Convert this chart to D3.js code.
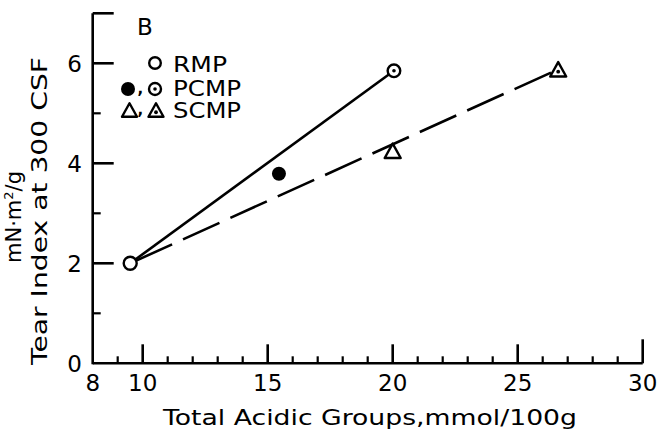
<!DOCTYPE html>
<html><head><meta charset="utf-8">
<script src="https://cdn.jsdelivr.net/npm/d3@7"></script>
<style>body{margin:0;background:#fff}svg{display:block}text{font-family:"DejaVu Sans",sans-serif;fill:#000}</style>
</head><body>
<svg id="c" width="658" height="431"></svg>
<script>
// ---- data ----
const xTickLabels = [8, 10, 15, 20, 25, 30];
const xMajorTicks = [10, 15, 20, 25, 30];
const xMinorTicks = [9, 11, 12, 13, 14, 16, 17, 18, 19, 21, 22, 23, 24, 26, 27, 28, 29];
const yTickLabels = [0, 2, 4, 6];
const yMajorTicks = [2, 4, 6, 7];
const yMinorTicks = [1, 3, 5];
const rmpX = [9.5], rmpY = [2.0];
const pcmpFilledX = [15.45], pcmpFilledY = [3.79];
const pcmpDotX = [20.05], pcmpDotY = [5.85];
const scmpOpenX = [20.0], scmpOpenY = [4.25];
const scmpDotX = [26.62], scmpDotY = [5.88];
const solidLineX = [9.5, 20.05], solidLineY = [2.0, 5.85];
const dashLineX = [9.5, 26.62], dashLineY = [2.0, 5.88];
const legendLabels = ["RMP", "PCMP", "SCMP"];

const svg = d3.select("#c");
const x = d3.scaleLinear().domain([8, 30]).range([92.7, 642.7]);
const y = d3.scaleLinear().domain([0, 7]).range([363.3, 13.3]);
const SW = 2.6;

// axes lines
svg.append("line").attr("x1", x(8)).attr("x2", x(30)).attr("y1", y(0)).attr("y2", y(0))
  .attr("stroke", "#000").attr("stroke-width", SW);
svg.append("line").attr("x1", x(8)).attr("x2", x(8)).attr("y1", y(0) + 1).attr("y2", y(7))
  .attr("stroke", "#000").attr("stroke-width", SW);

// x ticks (inward)
svg.selectAll(".xmaj").data(xMajorTicks).enter().append("line")
  .attr("x1", d => x(d)).attr("x2", d => x(d)).attr("y1", y(0)).attr("y2", d => y(0) - (d === 30 ? 24 : 19))
  .attr("stroke", "#000").attr("stroke-width", SW);
svg.selectAll(".xmin").data(xMinorTicks).enter().append("line")
  .attr("x1", d => x(d)).attr("x2", d => x(d)).attr("y1", y(0)).attr("y2", y(0) - 7)
  .attr("stroke", "#000").attr("stroke-width", SW - 0.4);
svg.selectAll(".xl").data(xTickLabels).enter().append("text")
  .attr("x", d => x(d)).attr("y", 391).attr("text-anchor", "middle")
  .attr("font-size", 23).text(d => d);

// y ticks (inward)
svg.selectAll(".ymaj").data(yMajorTicks).enter().append("line")
  .attr("x1", x(8)).attr("x2", x(8) + 21).attr("y1", d => y(d)).attr("y2", d => y(d))
  .attr("stroke", "#000").attr("stroke-width", SW);
svg.selectAll(".ymin").data(yMinorTicks).enter().append("line")
  .attr("x1", x(8)).attr("x2", x(8) + 8).attr("y1", d => y(d)).attr("y2", d => y(d))
  .attr("stroke", "#000").attr("stroke-width", SW - 0.4);
svg.selectAll(".yl").data(yTickLabels).enter().append("text")
  .attr("x", 82).attr("y", d => y(d) + 8.5).attr("text-anchor", "end")
  .attr("font-size", 23).text(d => d);

// axis titles
svg.append("text").attr("x", 163).attr("y", 425).attr("font-size", 22)
  .attr("textLength", 414).attr("lengthAdjust", "spacingAndGlyphs")
  .text("Total Acidic Groups,mmol/100g");
svg.append("text").attr("transform", "translate(47,365) rotate(-90)").attr("font-size", 22)
  .attr("textLength", 308).attr("lengthAdjust", "spacingAndGlyphs")
  .text("Tear Index at 300 CSF");
const t2 = svg.append("text").attr("transform", "translate(21,263) rotate(-90)").attr("font-size", 21);
t2.append("tspan").text("mN\u00B7m");
t2.append("tspan").attr("font-size", 13).attr("dy", -8).text("2");
t2.append("tspan").attr("dy", 8).text("/g");

// panel letter
svg.append("text").attr("x", 137).attr("y", 35).attr("font-size", 23).text("B");

// lines
const line = d3.line().x(d => x(d[0])).y(d => y(d[1]));
svg.append("path").datum(d3.zip(solidLineX, solidLineY)).attr("d", line)
  .attr("fill", "none").attr("stroke", "#000").attr("stroke-width", SW);
svg.append("path").datum(d3.zip(dashLineX, dashLineY)).attr("d", line)
  .attr("fill", "none").attr("stroke", "#000").attr("stroke-width", SW)
  .attr("stroke-dasharray", "40,12").attr("stroke-dashoffset", -6);

// marker helpers
function openCircle(g, cx, cy, r) {
  g.append("circle").attr("cx", cx).attr("cy", cy).attr("r", r)
    .attr("fill", "#fff").attr("stroke", "#000").attr("stroke-width", 2.4);
}
function dotCircle(g, cx, cy, r) {
  openCircle(g, cx, cy, r);
  g.append("circle").attr("cx", cx).attr("cy", cy).attr("r", 1.8).attr("fill", "#000");
}
function filledCircle(g, cx, cy, r) {
  g.append("circle").attr("cx", cx).attr("cy", cy).attr("r", r).attr("fill", "#000");
}
function triangle(g, cx, cy, s, dot) {
  const h = s * 0.9;
  g.append("path").attr("d", `M${cx},${cy - h / 2}L${cx + s / 2},${cy + h / 2}L${cx - s / 2},${cy + h / 2}Z`)
    .attr("fill", "#fff").attr("stroke", "#000").attr("stroke-width", 2.4).attr("stroke-linejoin", "round");
  if (dot) g.append("circle").attr("cx", cx).attr("cy", cy + h / 6).attr("r", 1.9).attr("fill", "#000");
}

const gm = svg.append("g");
rmpX.forEach((d, i) => openCircle(gm, x(d), y(rmpY[i]), 6.5));
pcmpFilledX.forEach((d, i) => filledCircle(gm, x(d), y(pcmpFilledY[i]), 7));
pcmpDotX.forEach((d, i) => dotCircle(gm, x(d), y(pcmpDotY[i]), 6.3));
scmpOpenX.forEach((d, i) => triangle(gm, x(d), y(scmpOpenY[i]), 16, false));
scmpDotX.forEach((d, i) => triangle(gm, x(d), y(scmpDotY[i]), 16, true));

// legend
const lg = svg.append("g");
openCircle(lg, 155, 63, 5.8);
filledCircle(lg, 128, 89, 7);
dotCircle(lg, 155, 89, 6);
triangle(lg, 129.5, 110, 15, false);
triangle(lg, 156, 110, 15, true);
lg.append("text").attr("x", 137.5).attr("y", 94).attr("font-size", 15).attr("font-weight", "bold").text(",");
lg.append("text").attr("x", 137.5).attr("y", 115).attr("font-size", 15).attr("font-weight", "bold").text(",");
const legW = [54, 68, 68];
const legY = [72, 96, 118];
legendLabels.forEach((t, i) => {
  lg.append("text").attr("x", 173).attr("y", legY[i]).attr("font-size", 21)
    .attr("textLength", legW[i]).attr("lengthAdjust", "spacingAndGlyphs").text(t);
});
</script>
</body></html>
